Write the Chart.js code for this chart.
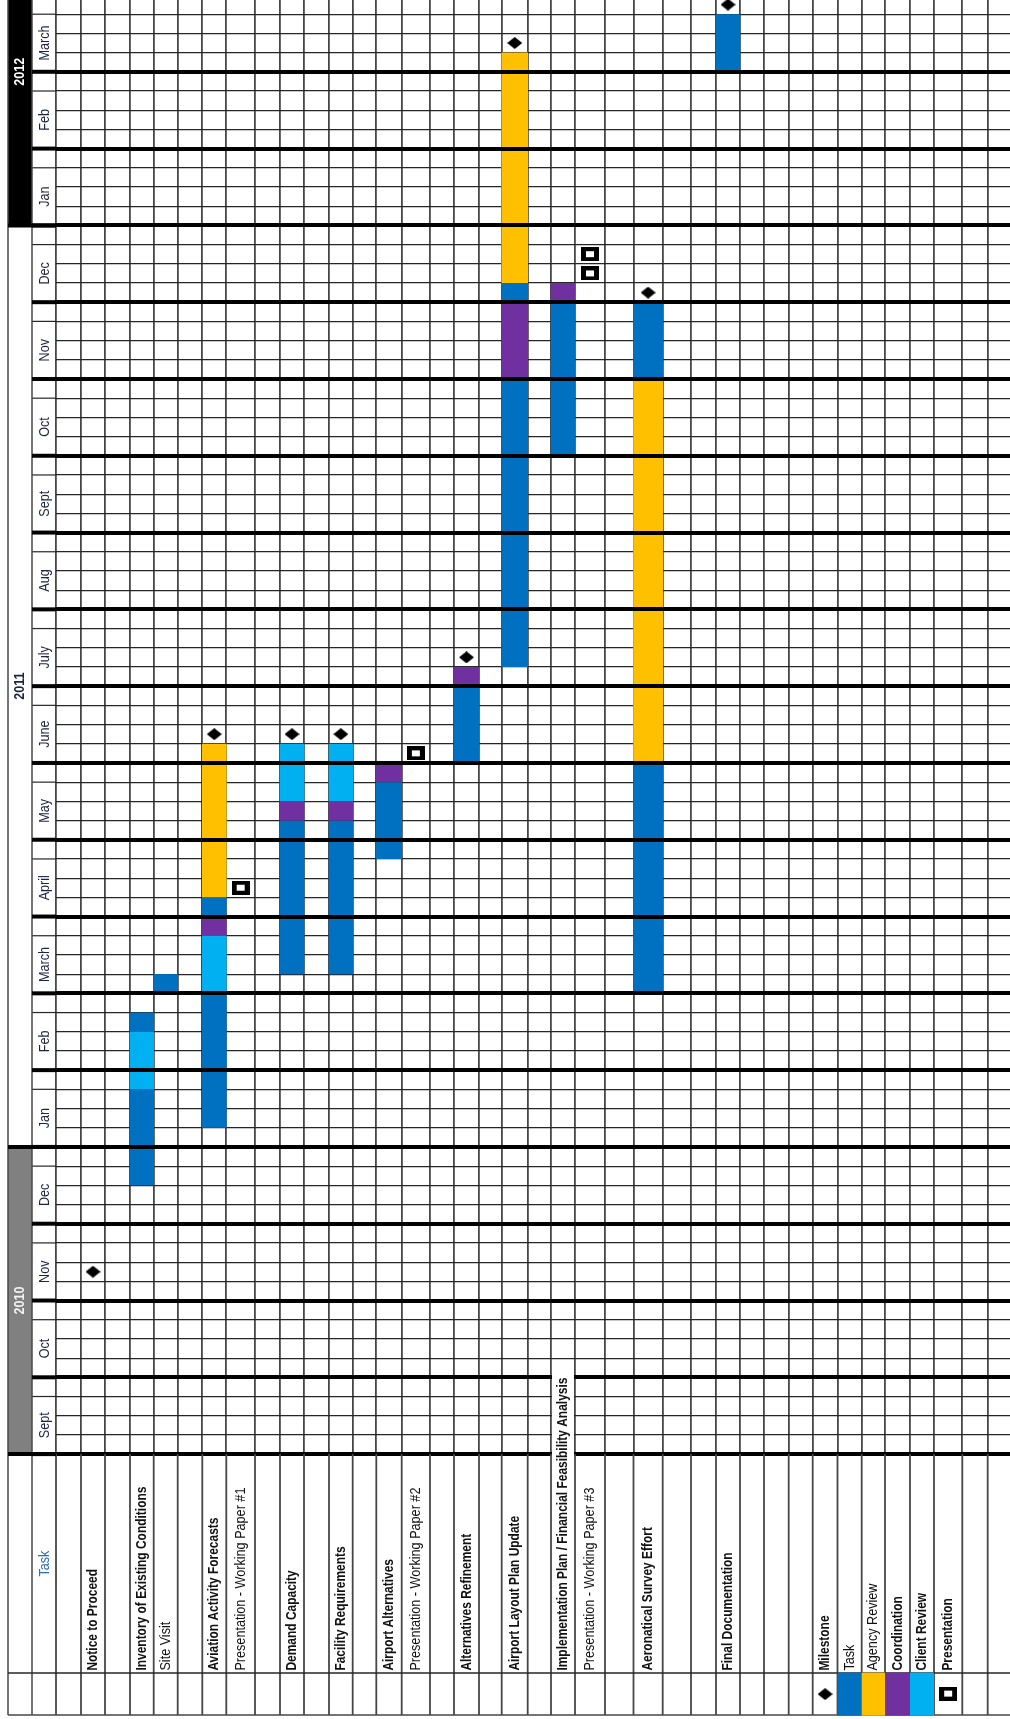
<!DOCTYPE html>
<html>
<head>
<meta charset="utf-8">
<script src="https://cdn.jsdelivr.net/npm/chart.js@4.4.1/dist/chart.umd.min.js"></script>
<style>
html,body{margin:0;padding:0;background:#fff;}
#page{position:relative;width:1010px;height:1719px;overflow:hidden;background:#fff;}
#box{position:absolute;left:0;top:-5px;width:1010px;height:1724px;}
</style>
</head>
<body>
<div id="page"><div id="box"><canvas id="c"></canvas></div></div>
<script>
// ================= DATA =================
const years = ['2010', '2011', '2012'];
const yearStartWeek = [0, 16, 64];      // week index where each year starts
const yearLabelWeek = [8, 40, 72];      // week index where each year label sits
const months = ['Sept','Oct','Nov','Dec','Jan','Feb','March','April','May','June','July','Aug','Sept','Oct','Nov','Dec','Jan','Feb','March'];
const weeksPerMonth = 4;
const headerLabel = 'Task';
// one entry per table column (spacer columns are empty)
const rows = ['', 'Notice to Proceed', '', 'Inventory of Existing Conditions', 'Site Visit', '',
  'Aviation Activity Forecasts', 'Presentation - Working Paper #1', '', 'Demand Capacity', '',
  'Facility Requirements', '', 'Airport Alternatives', 'Presentation - Working Paper #2', '',
  'Alternatives Refinement', '', 'Airport Layout Plan Update', '',
  'Implementation Plan / Financial Feasibility Analysis', 'Presentation - Working Paper #3', '',
  'Aeronatical Survey Effort', '', '', 'Final Documentation', '', '', '',
  'Milestone', 'Task', 'Agency Review', 'Coordination', 'Client Review', 'Presentation', '', ''];
// [row index, start week, end week (exclusive)]
const taskBars = [[3,14,19],[3,22,23],[4,24,25],[6,17,24],[6,28,29],[9,25,33],[11,25,33],[13,31,35],
  [16,36,40],[18,41,56],[18,60,61],[20,52,60],[23,24,36],[23,56,60],[26,72,75]];
const agencyReviewBars = [[6,29,37],[18,61,73],[23,36,56]];
const coordinationBars = [[6,27,28],[9,33,34],[11,33,34],[13,35,36],[16,40,41],[18,56,60],[20,60,61]];
const clientReviewBars = [[3,19,22],[6,24,27],[9,34,37],[11,34,37]];
// [row index, week]
const milestones = [[1,9],[6,37],[9,37],[11,37],[16,41],[18,73],[23,60],[26,75]];
const presentations = [[7,29],[14,36],[21,61],[21,62]];

// ================= LAYOUT / STYLE =================
const colWidths = [25,24,25,23.7,24,24.6,24,28.7,25,24,25,23.7,23.6,25.4,28.3,24,25,22.7,26,23.3,24,30,28.5,29.2,28.3,25,24,24,24.7,24,24.8,24.2,23.3,25,24,28.3,25.4,24.3];
const YEAR_COL_W = 24, MONTH_COL_W = 24, LEFT_PAD = 56;
const colors = {'Task':'#0070C0','Agency Review':'#FFC000','Coordination':'#7030A0','Client Review':'#00B0F0'};
const yearFill = ['#808080', '#ffffff', '#000000'];
const yearText = ['#f2f2f2', '#1c2440', '#ffffff'];
const regularLabels = new Set(['Site Visit','Presentation - Working Paper #1','Presentation - Working Paper #2','Presentation - Working Paper #3','Task','Agency Review']);
const FONT = "'Liberation Sans', Arial, sans-serif";
const VLINE = '#474747', HLINE = '#262626';

const colEdges = [];
{ let acc = 0; colWidths.forEach(w => { colEdges.push(acc); acc += w; }); colEdges.push(acc); }
const colCenter = i => colEdges[i] + colWidths[i] / 2;
const totalWeeks = months.length * weeksPerMonth;

// point symbols
const diamondImg = (() => { const c = document.createElement('canvas'); c.width = 15; c.height = 12;
  const g = c.getContext('2d'); g.fillStyle = '#000'; g.beginPath(); g.moveTo(7.5,0); g.lineTo(15,6); g.lineTo(7.5,12); g.lineTo(0,6); g.closePath(); g.fill(); return c; })();
const presImg = (() => { const c = document.createElement('canvas'); c.width = 18; c.height = 14;
  const g = c.getContext('2d'); g.fillStyle = '#000'; g.fillRect(0,0,18,14); g.fillStyle = '#fff'; g.fillRect(5,4,8,6); return c; })();

// ================= DATASETS =================
const byRow = new Map();
[['Task', taskBars], ['Agency Review', agencyReviewBars], ['Coordination', coordinationBars], ['Client Review', clientReviewBars]]
  .forEach(([type, arr]) => arr.forEach(([r, s, e]) => {
    if (!byRow.has(r)) byRow.set(r, []);
    byRow.get(r).push({x: colCenter(r), y: [s, e], type});
  }));
const datasets = [...byRow.entries()].map(([r, pts]) => ({
  type: 'bar', label: rows[r], data: pts,
  backgroundColor: pts.map(p => colors[p.type]),
  barThickness: colWidths[r] + 0.6, grouped: false, borderWidth: 0, inflateAmount: 0,
  xAxisID: 'x', yAxisID: 'y', order: 2
}));
datasets.push({type: 'scatter', label: 'Milestone', data: milestones.map(([r, w]) => ({x: colCenter(r), y: w + 0.5})),
  pointStyle: diamondImg, pointRadius: 8, xAxisID: 'x', yAxisID: 'y', order: 0});
datasets.push({type: 'scatter', label: 'Presentation', data: presentations.map(([r, w]) => ({x: colCenter(r), y: w + 0.5})),
  pointStyle: presImg, pointRadius: 8, xAxisID: 'x', yAxisID: 'y', order: 0});

// ================= TEXT FITTING (Calibri-like narrow text) =================
const mctx = document.createElement('canvas').getContext('2d');
function fitFactor(font, sample, target) { mctx.font = font; return target / mctx.measureText(sample).width; }
const F_BOLD = 'bold 15px ' + FONT, F_REG = '15px ' + FONT, F_MONTH = '15.5px ' + FONT, F_YEAR = 'bold 15px ' + FONT;
const K_BOLD = fitFactor(F_BOLD, 'Inventory of Existing Conditions', 184);
const K_REG = fitFactor(F_REG, 'Presentation - Working Paper #1', 183);
const K_MONTH = fitFactor(F_MONTH, 'March', 35);
const K_YEAR = fitFactor(F_YEAR, '2012', 28);

// ================= TABLE PLUGIN =================
function rotText(ctx, text, x, y, font, color, align, k) {
  ctx.save(); ctx.translate(x, y); ctx.rotate(-Math.PI / 2); ctx.scale(k, 1);
  ctx.font = font; ctx.fillStyle = color; ctx.textAlign = align; ctx.textBaseline = 'middle';
  ctx.fillText(text, 0, 0); ctx.restore();
}
function hline(ctx, x1, x2, y, w, c) { ctx.beginPath(); ctx.lineWidth = w; ctx.strokeStyle = c; ctx.moveTo(x1, y); ctx.lineTo(x2, y); ctx.stroke(); }
function vline(ctx, x, y1, y2, w, c) { ctx.beginPath(); ctx.lineWidth = w; ctx.strokeStyle = c; ctx.moveTo(x, y1); ctx.lineTo(x, y2); ctx.stroke(); }

const tablePlugin = {
  id: 'table',
  afterDraw(chart) {
    const ctx = chart.ctx, xs = chart.scales.x, ys = chart.scales.y, area = chart.chartArea;
    const monthL = area.left - MONTH_COL_W, yearL = monthL - YEAR_COL_W;
    const Y0 = area.bottom, rowLine = Y0 + 219, tableBottom = Y0 + 261;
    const Y = w => ys.getPixelForValue(w);
    ctx.save();
    // year bands
    years.forEach((yr, i) => {
      const s = yearStartWeek[i], e = i + 1 < years.length ? yearStartWeek[i + 1] : totalWeeks;
      ctx.fillStyle = yearFill[i]; ctx.fillRect(yearL, Y(e), YEAR_COL_W, Y(s) - Y(e));
    });
    // month column thin lines
    months.forEach((m, i) => hline(ctx, monthL, area.left, Y(i * weeksPerMonth + 3), 1.2, HLINE));
    // vertical lines of left columns and label area
    vline(ctx, yearL, 0, tableBottom, 1.5, VLINE);
    vline(ctx, monthL, 0, tableBottom, 1.5, VLINE);
    colEdges.forEach(v => { const px = xs.getPixelForValue(v); if (px <= area.right + 1) vline(ctx, px, Y0, tableBottom, 1.8, VLINE); });
    hline(ctx, yearL, area.right, rowLine, 1.5, HLINE);
    hline(ctx, yearL, area.right, tableBottom, 1.5, VLINE);
    // legend row
    Object.keys(colors).forEach(k => {
      const r = rows.indexOf(k);
      ctx.fillStyle = colors[k];
      ctx.fillRect(xs.getPixelForValue(colEdges[r]), rowLine - 0.5, colWidths[r], tableBottom - rowLine + 1);
    });
    const mr = rows.indexOf('Milestone'), pr = rows.indexOf('Presentation');
    ctx.drawImage(diamondImg, xs.getPixelForValue(colCenter(mr)) - 7.5, Y0 + 240 - 6);
    ctx.drawImage(presImg, xs.getPixelForValue(colCenter(pr)) - 9, Y0 + 239.5 - 7);
    // thick lines in left columns
    months.forEach((m, i) => hline(ctx, monthL, area.left, Y(i * weeksPerMonth), 4, '#000'));
    yearStartWeek.forEach(w => hline(ctx, yearL, area.left, Y(w), 4, '#000'));
    // year labels
    years.forEach((yr, i) => rotText(ctx, yr, yearL + YEAR_COL_W / 2, Y(yearLabelWeek[i]), F_YEAR, yearText[i], 'center', K_YEAR));
    // month labels
    months.forEach((m, i) => rotText(ctx, m, monthL + MONTH_COL_W / 2 + 1, Y(i * weeksPerMonth + 1.5), F_MONTH, '#1c2440', 'center', K_MONTH));
    // header
    rotText(ctx, headerLabel, monthL + MONTH_COL_W / 2 + 1, (Y0 + rowLine) / 2, F_MONTH, '#2e6fb7', 'center', K_MONTH);
    // row labels
    rows.forEach((lab, r) => {
      if (!lab) return;
      const reg = regularLabels.has(lab);
      const font = reg ? F_REG : F_BOLD, k = reg ? K_REG : K_BOLD;
      const cx = xs.getPixelForValue(colCenter(r));
      ctx.font = font;
      const w = ctx.measureText(lab).width * k;
      const startY = Y0 + 216.5;
      if (startY - w < Y0 + 4) {
        ctx.fillStyle = '#fff';
        ctx.fillRect(xs.getPixelForValue(colEdges[r]) + 1, startY - w - 3, colWidths[r] - 2, w + 3);
      }
      rotText(ctx, lab, cx, startY, font, '#111', 'left', k);
    });
    ctx.restore();
  }
};

// ================= CHART =================
new Chart(document.getElementById('c'), {
  type: 'bar',
  data: {datasets},
  plugins: [tablePlugin],
  options: {
    responsive: true, maintainAspectRatio: false, animation: false,
    layout: {autoPadding: false, padding: {left: LEFT_PAD, right: 0, top: 0, bottom: 264.9}},
    plugins: {legend: {display: false}, tooltip: {enabled: false}},
    scales: {
      x: {type: 'linear', min: 0, max: 1010 - LEFT_PAD, offset: false,
        ticks: {display: false}, border: {display: false},
        grid: {offset: false, drawTicks: false, color: VLINE, lineWidth: 1.8, z: -1},
        afterBuildTicks: s => { s.ticks = colEdges.filter(v => v <= 1010 - LEFT_PAD).map(v => ({value: v})); }},
      y: {type: 'linear', position: 'left', min: 0, max: totalWeeks,
        ticks: {display: false}, border: {display: false},
        grid: {drawTicks: false, color: HLINE, lineWidth: 1.2, z: -1},
        afterBuildTicks: s => { s.ticks = Array.from({length: totalWeeks + 1}, (_, i) => ({value: i})); }},
      yM: {type: 'linear', position: 'left', min: 0, max: totalWeeks,
        ticks: {display: false}, border: {display: false},
        grid: {drawTicks: false, color: '#000', lineWidth: 4, z: 1},
        afterBuildTicks: s => { s.ticks = Array.from({length: months.length + 1}, (_, i) => ({value: i * weeksPerMonth})); }}
    }
  }
});
</script>
</body>
</html>
